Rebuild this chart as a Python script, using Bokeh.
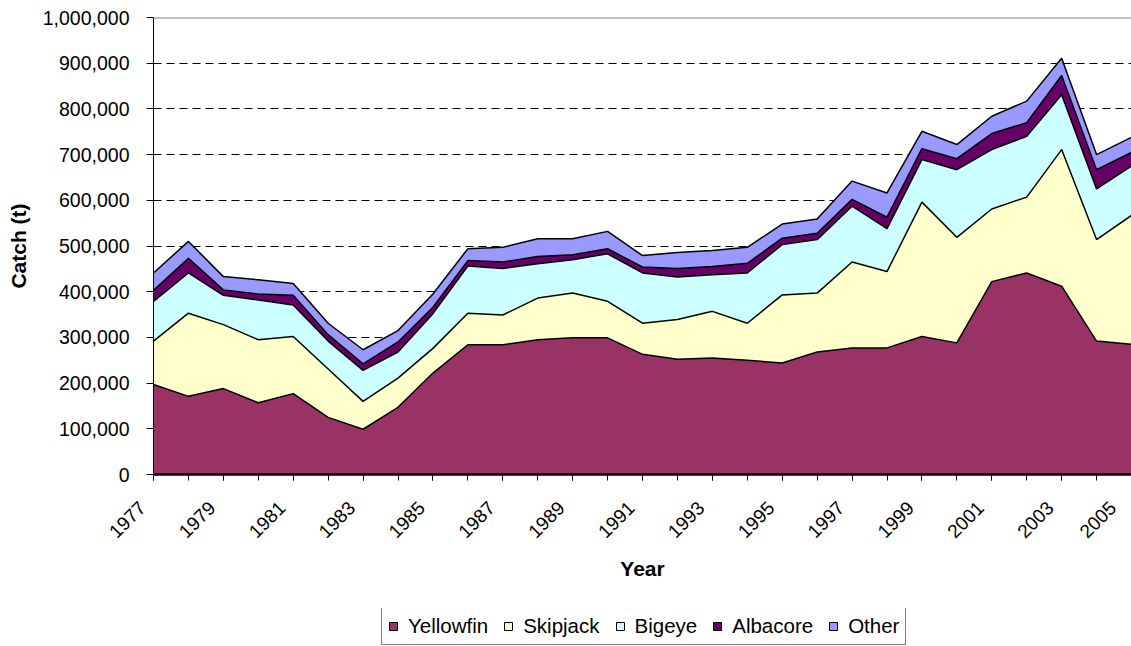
from bokeh.plotting import figure
from bokeh.layouts import column
from bokeh.models import (ColumnDataSource, Range1d, FixedTicker, NumeralTickFormatter,
                          Span, Legend, LegendItem)
from bokeh.embed import file_html
from bokeh.resources import INLINE
import math

years = [1977, 1978, 1979, 1980, 1981, 1982, 1983, 1984, 1985, 1986, 1987, 1988, 1989, 1990,
         1991, 1992, 1993, 1994, 1995, 1996, 1997, 1998, 1999, 2000, 2001, 2002, 2003, 2004, 2005]
yellowfin = [197000, 171000, 188000, 157000, 177000, 125000, 99000, 147000, 222000, 284000,
             284000, 295000, 299000, 299000, 263000, 252000, 255000, 250000, 244000, 268000,
             277000, 277000, 302000, 288000, 422000, 441000, 412000, 292000, 285000]
skipjack = [95000, 182000, 140000, 138000, 125000, 106000, 61000, 64000, 54000, 69000,
            65000, 91000, 98000, 80000, 68000, 87000, 102000, 81000, 149000, 129000,
            188000, 167000, 294000, 231000, 159000, 166000, 299000, 222000, 282000]
bigeye = [87000, 88000, 64000, 87000, 69000, 61000, 68000, 57000, 76000, 103000,
          102000, 75000, 73000, 104000, 110000, 93000, 80000, 110000, 110000, 117000,
          122000, 94000, 93000, 148000, 130000, 133000, 120000, 111000, 108000]
albacore = [24000, 32000, 12000, 13000, 21000, 14000, 14000, 22000, 14000, 12000,
            14000, 16000, 11000, 11000, 13000, 19000, 18000, 21000, 14000, 14000,
            15000, 25000, 24000, 24000, 35000, 30000, 42000, 42000, 30000]
other = [38000, 37000, 29000, 31000, 26000, 25000, 31000, 25000, 29000, 26000,
         32000, 39000, 35000, 38000, 25000, 35000, 35000, 35000, 31000, 31000,
         40000, 53000, 38000, 31000, 38000, 47000, 38000, 33000, 33000]

series = ["Yellowfin", "Skipjack", "Bigeye", "Albacore", "Other"]
colors = ["#993366", "#FFFFCC", "#CCFFFF", "#660066", "#9999FF"]
y_ticks = [0, 100000, 200000, 300000, 400000, 500000, 600000, 700000, 800000, 900000, 1000000]
x_label_ticks = [1977, 1979, 1981, 1983, 1985, 1987, 1989, 1991, 1993, 1995, 1997, 1999, 2001, 2003, 2005]

FONT = "Liberation Sans"

source = ColumnDataSource(dict(year=years, Yellowfin=yellowfin, Skipjack=skipjack,
                               Bigeye=bigeye, Albacore=albacore, Other=other))

p = figure(width=1131, height=608, output_backend="svg", toolbar_location=None,
           x_range=Range1d(years[0], years[-1]), y_range=Range1d(0, 1000000),
           min_border_left=153, min_border_right=0, min_border_top=17, min_border_bottom=134)
p.outline_line_color = None
p.background_fill_color = "white"
p.border_fill_color = "white"

p.varea_stack(stackers=series, x="year", color=colors, source=source)
p.vline_stack(stackers=series, x="year", color="black", line_width=1.5, source=source)

# top border line
p.add_layout(Span(location=1000000, dimension="width", line_color="#808080", line_width=2))

# grid
p.xgrid.visible = False
p.ygrid.ticker = FixedTicker(ticks=y_ticks[1:-1])
p.ygrid.grid_line_color = "black"
p.ygrid.grid_line_dash = "8 5"
p.ygrid.grid_line_width = 1

# y axis
ya = p.yaxis[0]
ya.ticker = FixedTicker(ticks=y_ticks)
ya.formatter = NumeralTickFormatter(format="0,0")
ya.axis_label = "Catch (t)"
ya.axis_label_text_font = FONT
ya.axis_label_text_font_style = "bold"
ya.axis_label_text_font_size = "21px"
ya.axis_label_text_color = "black"
ya.axis_label_standoff = 10
ya.major_label_text_font = FONT
ya.major_label_text_font_size = "19.5px"
ya.major_label_text_color = "black"
ya.major_label_standoff = 17
ya.major_tick_out = 7
ya.major_tick_in = 0
ya.minor_tick_out = 0
ya.minor_tick_in = 0
ya.axis_line_color = "black"
ya.major_tick_line_color = "black"

# x axis
xa = p.xaxis[0]
xa.ticker = FixedTicker(ticks=x_label_ticks, minor_ticks=years)
xa.major_label_overrides = {t: str(t) + "\u00a0\u00a0\u00a0" for t in x_label_ticks}
xa.axis_label = "Year"
xa.axis_label_text_font = FONT
xa.axis_label_text_font_style = "bold"
xa.axis_label_text_font_size = "21px"
xa.axis_label_text_color = "black"
xa.axis_label_standoff = 5
xa.major_label_text_font = FONT
xa.major_label_text_font_size = "19px"
xa.major_label_text_color = "black"
xa.major_label_orientation = math.pi / 4
xa.major_label_standoff = 13
xa.major_tick_out = 6
xa.major_tick_in = 0
xa.minor_tick_out = 6
xa.minor_tick_in = 0
xa.axis_line_color = "black"
xa.axis_line_width = 2.5
xa.major_tick_line_color = "black"
xa.minor_tick_line_color = "black"

# legend row: a second, axis-less figure holding only the legend
pl = figure(width=1131, height=38, output_backend="svg", toolbar_location=None,
            x_range=Range1d(0, 1), y_range=Range1d(0, 1),
            x_axis_location=None, y_axis_location=None,
            min_border_left=0, min_border_right=0, min_border_top=0, min_border_bottom=0)
pl.outline_line_color = None
pl.grid.visible = False
pl.background_fill_color = "white"
pl.border_fill_color = "white"

nan = float("nan")
items = []
for name, col in zip(series, colors):
    # swatch-only renderer (NaN geometry: nothing drawn in the frame)
    r = pl.quad(left=[nan], right=[nan], top=[nan], bottom=[nan],
                fill_color=col, line_color="black", line_width=1)
    items.append(LegendItem(label=name, renderers=[r]))

legend = Legend(items=items, orientation="horizontal", location=(228, 1),
                label_text_font=FONT, label_text_font_size="20.5px", label_text_color="black",
                label_standoff=10, glyph_width=10, glyph_height=10, spacing=15, padding=6,
                margin=0, border_line_color="black", border_line_width=1,
                background_fill_color="white", background_fill_alpha=1.0)
pl.add_layout(legend, "center")

layout = column(p, pl, spacing=0)
open("out.html", "w").write(file_html(layout, INLINE))
